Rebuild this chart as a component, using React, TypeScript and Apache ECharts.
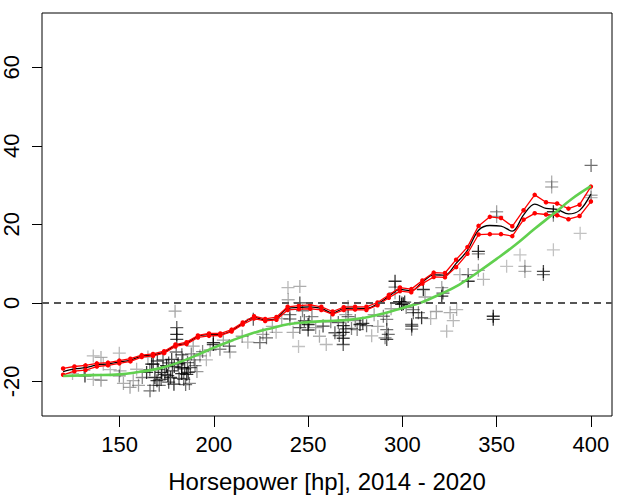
import React, { useEffect, useRef } from "react";
import * as echarts from "echarts";

const FONT = "'Liberation Sans', Arial, Helvetica, sans-serif";

// axis limits and ticks
const X_MIN = 108.8;
const X_MAX = 411.2;
const Y_MIN = -28.8;
const Y_MAX = 73.8;
const xTicks = [150, 200, 250, 300, 350, 400];
const yTicks = [-20, 0, 20, 40, 60];
const xTitle = "Horsepower [hp], 2014 - 2020";

// evaluation grid of the estimate
const gridX = [
  120.0, 126.0, 131.9, 137.9, 143.8, 149.8, 155.7, 161.7, 167.7, 173.6,
  179.6, 185.5, 191.5, 197.4, 203.4, 209.4, 215.3, 221.3, 227.2, 233.2,
  239.1, 245.1, 251.1, 257.0, 263.0, 268.9, 274.9, 280.9, 286.8, 292.8,
  298.7, 304.7, 310.6, 316.6, 322.6, 328.5, 334.5, 340.4, 346.4, 352.3,
  358.3, 364.3, 370.2, 376.2, 382.1, 388.1, 394.0, 400.0,
];
const upperY = [
  -16.7, -16.2, -15.9, -15.4, -15.2, -14.7, -14.2, -13.3, -13.0, -12.3,
  -10.6, -10.0, -8.3, -7.8, -7.8, -6.8, -5.0, -3.4, -4.1, -3.6,
  -1.0, -0.7, -0.5, -1.0, -2.2, -1.1, -1.0, -1.0, 0.1, 2.0,
  3.9, 3.5, 5.7, 7.7, 7.6, 11.0, 14.2, 19.6, 21.9, 21.6,
  19.5, 23.6, 27.5, 25.6, 25.3, 24.0, 25.0, 29.6,
];
const lowerY = [
  -18.3, -17.4, -17.1, -16.2, -15.9, -15.4, -14.9, -13.8, -13.5, -12.8,
  -11.1, -10.5, -8.8, -8.4, -8.3, -7.3, -5.5, -4.0, -4.6, -4.3,
  -1.8, -1.6, -1.5, -1.8, -2.9, -1.8, -1.7, -1.8, -0.6, 1.3,
  3.0, 2.7, 4.9, 6.6, 6.5, 9.1, 12.5, 17.4, 17.5, 17.5,
  17.0, 21.2, 22.8, 22.5, 22.3, 21.3, 22.1, 25.8,
];
const centerY = [
  -17.5, -16.8, -16.5, -15.8, -15.55, -15.05, -14.55, -13.55, -13.25, -12.55,
  -10.85, -10.25, -8.55, -8.1, -8.05, -7.05, -5.25, -3.7, -4.35, -3.95,
  -1.4, -1.15, -1.0, -1.4, -2.55, -1.45, -1.35, -1.4, -0.25, 1.65,
  3.45, 3.1, 5.3, 7.15, 7.05, 10.05, 13.35, 18.5, 19.7, 19.55,
  18.25, 22.4, 25.15, 24.05, 23.8, 22.65, 23.55, 27.7,
];

// smooth (green) fit
const fitX = [
  120, 135, 150, 160, 170, 180, 190, 200, 210, 220, 230, 240, 250, 260,
  270, 280, 290, 300, 310, 320, 330, 340, 350, 360, 370, 380, 390, 400,
];
const fitY = [
  -18.6, -18.4, -18.2, -17.6, -16.8, -15.4, -13.5, -11.4, -9.5, -7.8, -6.5,
  -5.4, -4.9, -4.6, -4.4, -3.8, -2.7, -1.3, 0.1, 2.2, 4.6, 7.8, 11.2, 14.8,
  18.8, 22.6, 26.5, 29.7,
];

// observations: horsepower, residual, opacity
const obsX = [
  125, 131.6, 131, 136, 136, 140.1, 140.1, 141.3, 145, 149.8, 149.8, 150.2, 152, 155.5, 157.2, 159,
  160, 162, 164.3, 165, 166.1, 167, 167.8, 168.7, 169.8, 170.5, 171, 172.3, 173, 174.9, 175.5, 176,
  177.6, 178.8, 178, 179.4, 180.3, 180.3, 180.3, 180, 181, 182.9, 182.9, 183.5, 184, 185.6, 186.4, 186,
  187, 188, 189, 190, 192.6, 194, 196, 198, 199.7, 199.7, 203.2, 205, 208.2, 208.5,
  170, 172, 174, 176, 177, 179, 181.5, 183, 184.5, 185, 187.5, 189.5, 191, 166, 168,
  215, 218, 220.9, 224.4, 226, 227.9, 231, 233, 236, 239.3, 239.4, 240.3, 240.3, 242, 244.9, 245.6,
  245.6, 245.6, 247, 248, 250, 250, 252, 254, 257.9, 259.6, 256, 250.5, 246,
  262, 264.2, 266, 268.6, 268.6, 268.6, 268.6, 270, 271.2, 271.2, 273, 275, 277.5, 279, 281, 283.7,
  285, 287, 289.9, 290.8, 291.7, 291.7, 291.7, 294, 266.5, 270, 276, 292.5,
  296.1, 296.1, 296.1, 298.5, 299.6, 300.5, 301.2, 299.7, 302, 304.9, 304.9, 305, 305.8, 305.8, 308.5,
  310.2, 311.1, 312, 315, 318, 320.9, 320.9, 321.5, 323.5, 325.3, 328.8, 330.5, 327,
  334.9, 334.9, 340.3, 340.3, 340.3, 343, 348.2, 348.2, 350, 350, 355.3, 362.4, 365, 365, 374.8, 374.8,
  379.2, 379.2, 380.1, 380.1, 380.1, 394.3, 400.1, 400.1, 400.1,
];
const obsY = [
  -18, -18.6, -17.2, -19.5, -13.5, -13.9, -19.7, -15.6, -17, -12.8, -18.6, -17.3, -20.5, -21.5, -19.8, -16.9,
  -21, -19, -17.7, -13.8, -22.4, -15.6, -15.6, -19.0, -19.8, -17.0, -21, -17.7, -14.5, -16.0, -18.5, -20.2,
  -14.4, -20.7, -17.3, -2.1, -6.3, -8.0, -9.3, -12.5, -15.5, -16.5, -18.0, -14.5, -19.5, -18.2, -17.7, -15.2,
  -20.5, -13, -11.0, -16, -13.5, -12.4, -14.5, -12, -10.1, -10.6, -11.8, -9.5, -11.0, -12.5,
  -14.8, -19.5, -18.2, -15.3, -19.0, -16.2, -19.2, -13.2, -16.8, -20.8, -16.5, -14.5, -17.5, -17, -21,
  -8.5, -10, -4.2, -10.1, -8, -8.9, -6, -7.5, -4, 3.9, 0.8, -3.0, -4.1, -7.5, -11.1, 4.2,
  0.0, -6.3, -2.0, -4.5, -5.5, -6.9, -3.5, -6.3, -5.9, -10.6, -8.5, -4.8, -5,
  -4.8, -7.6, -5.0, -5.8, -7.5, -9.0, -10.6, -3.0, -0.9, -3.5, -6.5, -4.5, -5.5, -5.2, -5.8, -8.4,
  -3.0, -6, -3.4, -8.9, -4.2, -6.8, -9.3, -1.5, -8.3, -6.6, -6.8, -8.0,
  5.5, 2.6, 4.0, 0.3, -0.4, -0.2, 0.2, 0.0, -1.2, -5.5, -6.7, -5.9, -1.7, -2.5, -2.5,
  -3.8, 3.4, 1.5, -4, -2.2, 1.7, 3.9, 2.5, -7.2, -2.5, -1.7, 7.2, -4.5,
  5.5, 7.2, 13.1, 12.5, 8.3, 6, -3.4, -4.2, 23.2, 22.0, 9.3, 12.2, 9.3, 8.0, 8.0, 7.2,
  30.8, 29.5, 23.2, 22.3, 13.5, 17.7, 35.0, 27.4, 26.8,
];
const obsA = [
  0.35, 1, 0.45, 0.35, 0.35, 0.4, 0.5, 0.35, 0.35, 0.35, 0.6, 0.4, 0.4, 0.45, 0.4, 0.35,
  0.45, 0.6, 1, 0.4, 0.7, 1, 0.9, 1, 0.9, 0.8, 0.7, 1, 0.8, 1, 0.9, 0.8,
  0.9, 1, 0.9, 0.45, 0.8, 1, 0.9, 0.7, 1, 1, 1, 0.8, 0.7, 1, 0.9, 0.7,
  0.6, 0.6, 0.45, 0.6, 0.45, 0.6, 0.35, 0.45, 1, 0.9, 0.6, 0.45, 0.8, 0.45,
  0.8, 0.8, 0.9, 0.8, 0.9, 0.9, 0.8, 0.7, 0.9, 0.7, 0.8, 0.6, 0.5, 0.7, 0.6,
  0.45, 0.35, 0.8, 0.7, 0.45, 0.7, 0.4, 0.35, 0.4, 0.35, 0.4, 0.7, 0.6, 0.4, 0.3, 0.4,
  0.9, 0.8, 0.6, 0.7, 1, 0.9, 0.6, 0.45, 0.9, 0.35, 0.4, 0.7, 0.6,
  0.6, 0.8, 0.7, 1, 1, 0.9, 0.8, 0.45, 0.45, 0.7, 0.6, 0.6, 1, 0.9, 0.7, 0.35,
  0.45, 0.4, 0.6, 0.6, 0.6, 0.7, 0.9, 0.45, 0.7, 0.8, 0.6, 0.7,
  1, 0.45, 0.6, 1, 1, 1, 0.9, 0.8, 0.6, 0.7, 0.6, 0.9, 0.6, 0.7, 0.6,
  1, 1, 0.45, 0.35, 0.45, 1, 0.45, 0.8, 0.35, 0.4, 0.35, 0.35, 0.35,
  1, 0.6, 1, 0.6, 0.45, 0.35, 1, 0.9, 0.45, 0.45, 0.3, 0.3, 0.4, 0.4, 0.9, 0.7,
  0.4, 0.4, 1, 0.6, 0.3, 0.3, 0.7, 0.4, 0.35,
];

const PLUS = "path://M0,6 L12,6 M6,0 L6,12";

export default function App() {
  const ref = useRef<HTMLDivElement>(null);
  useEffect(() => {
    if (!ref.current) return;
    const chart = echarts.init(ref.current, null, { renderer: "svg" });
    const pts = obsX.map((x, i) => ({
      value: [x, obsY[i]],
      itemStyle: { color: "rgba(0,0,0,0)", borderColor: `rgba(0,0,0,${obsA[i]})` },
    }));
    chart.setOption({
      animation: false,
      backgroundColor: "#ffffff",
      grid: {
        left: 42,
        right: 8,
        top: 13,
        bottom: 81,
        show: true,
        borderColor: "#000",
        borderWidth: 1,
        backgroundColor: "transparent",
      },
      xAxis: {
        type: "value",
        min: X_MIN,
        max: X_MAX,
        axisLine: { show: false, onZero: false },
        splitLine: { show: false },
        axisTick: {
          show: true,
          length: 11,
          customValues: xTicks,
          lineStyle: { color: "#000", width: 1 },
        },
        axisLabel: {
          customValues: xTicks,
          fontSize: 22,
          margin: 17,
          color: "#000",
          fontFamily: FONT,
        },
        name: xTitle,
        nameLocation: "middle",
        nameGap: 53,
        nameTextStyle: { fontSize: 24, color: "#000", fontFamily: FONT },
      },
      yAxis: {
        type: "value",
        min: Y_MIN,
        max: Y_MAX,
        axisLine: { show: false, onZero: false },
        splitLine: { show: false },
        axisTick: {
          show: true,
          length: 10,
          customValues: yTicks,
          lineStyle: { color: "#000", width: 1 },
        },
        axisLabel: {
          customValues: yTicks,
          rotate: 90,
          fontSize: 22,
          margin: 20,
          color: "#000",
          fontFamily: FONT,
        },
      },
      series: [
        {
          type: "scatter",
          symbol: PLUS,
          symbolSize: 13,
          data: pts,
          itemStyle: { borderWidth: 1.3 },
          silent: true,
          markLine: {
            silent: true,
            symbol: ["none", "none"],
            label: { show: false },
            lineStyle: { color: "#555", width: 2, type: [7, 5] },
            data: [{ yAxis: 0 }],
          },
          z: 1,
        },
        {
          type: "line",
          data: gridX.map((x, i) => [x, centerY[i]]),
          showSymbol: false,
          smooth: 0.35,
          lineStyle: { color: "#000", width: 1.3 },
          silent: true,
          z: 2,
        },
        {
          type: "line",
          data: gridX.map((x, i) => [x, upperY[i]]),
          symbol: "circle",
          symbolSize: 4.5,
          itemStyle: { color: "#ff0000" },
          lineStyle: { color: "#ff0000", width: 1.3 },
          silent: true,
          z: 3,
        },
        {
          type: "line",
          data: gridX.map((x, i) => [x, lowerY[i]]),
          symbol: "circle",
          symbolSize: 4.5,
          itemStyle: { color: "#ff0000" },
          lineStyle: { color: "#ff0000", width: 1.3 },
          silent: true,
          z: 3,
        },
        {
          type: "line",
          data: fitX.map((x, i) => [x, fitY[i]]),
          showSymbol: false,
          smooth: 0.4,
          lineStyle: { color: "#61D04F", width: 2.6 },
          silent: true,
          z: 4,
        },
      ],
    });
    return () => chart.dispose();
  }, []);
  return (
    <div
      ref={ref}
      style={{ position: "fixed", left: 0, top: 0, width: 620, height: 498 }}
    />
  );
}
